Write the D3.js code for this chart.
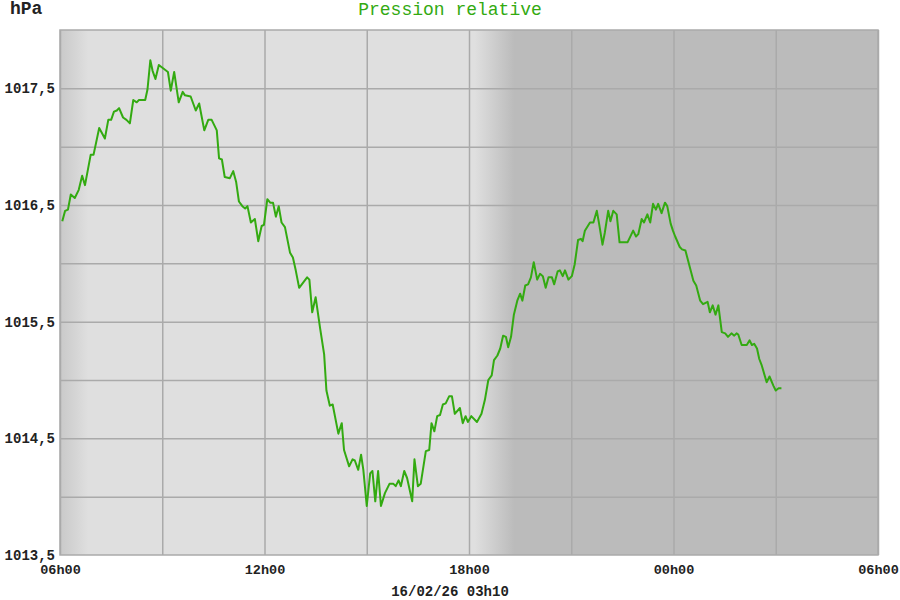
<!DOCTYPE html>
<html>
<head>
<meta charset="utf-8">
<script src="https://cdn.jsdelivr.net/npm/d3@7"></script>
<style>
  body { margin: 0; background: #fff; }
  svg text { font-family: "Liberation Mono", "Courier New", monospace; }
</style>
</head>
<body>
<svg id="chart" width="900" height="600"></svg>
<script>
// relative pressure readings, 15/02 06h00 -> 16/02 03h10
var times = [
  "06:04","06:09","06:14","06:19","06:26","06:33","06:39","06:44","06:54","06:59",
  "07:09","07:19","07:25","07:30","07:35","07:40","07:44","07:51","07:57","08:03",
  "08:09","08:15","08:19","08:30","08:34","08:39","08:43","08:48","08:54","09:02",
  "09:10","09:15","09:21","09:29","09:36","09:40","09:50","09:59","10:05","10:14",
  "10:21","10:27","10:36","10:40","10:45","10:50","10:59","11:05","11:10","11:15",
  "11:21","11:26","11:30","11:36","11:43","11:49","11:55","11:59","12:05","12:10",
  "12:15","12:20","12:25","12:30","12:36","12:45","12:50","12:55","13:01","13:15",
  "13:19","13:24","13:30","13:38","13:45","13:49","13:55","14:00","14:10","14:16",
  "14:20","14:29","14:35","14:39","14:45","14:50","14:54","15:00","15:06","15:10",
  "15:15","15:20","15:25","15:32","15:40","15:47","15:51","15:56","16:00","16:06",
  "16:11","16:20","16:24","16:30","16:35","16:44","16:50","16:54","16:59","17:04",
  "17:09","17:14","17:19","17:25","17:30","17:35","17:44","17:49","17:54","17:58",
  "18:04","18:14","18:22","18:28","18:34","18:40","18:44","18:50","18:55","19:00",
  "19:05","19:09","19:14","19:19","19:25","19:30","19:34","19:39","19:44","19:49",
  "19:54","20:00","20:05","20:10","20:15","20:20","20:26","20:30","20:36","20:40",
  "20:45","20:49","20:55","21:01","21:06","21:12","21:17","21:20","21:24","21:33",
  "21:39","21:45","21:49","21:55","21:59","22:05","22:09","22:14","22:20","22:25",
  "22:39","22:45","22:49","22:54","22:58","23:04","23:08","23:14","23:19","23:24",
  "23:29","23:33","23:39","23:45","23:49","23:55","23:59","00:03","00:11","00:15",
  "00:21","00:35","00:40","00:47","00:52","01:00","01:04","01:09","01:14","01:19",
  "01:25","01:31","01:36","01:42","01:47","01:51","01:54","02:00","02:09","02:14",
  "02:18","02:22","02:27","02:31","02:35","02:44","02:49","02:56","03:00","03:05",
  "03:10"
];
var pressures = [
  1016.36,1016.45,1016.46,1016.59,1016.56,1016.63,1016.75,1016.67,1016.93,1016.93,
  1017.16,1017.07,1017.23,1017.23,1017.30,1017.31,1017.33,1017.25,1017.23,1017.20,
  1017.40,1017.38,1017.40,1017.40,1017.49,1017.74,1017.65,1017.58,1017.70,1017.67,
  1017.64,1017.48,1017.64,1017.38,1017.47,1017.44,1017.43,1017.31,1017.37,1017.14,
  1017.23,1017.23,1017.14,1016.90,1016.89,1016.74,1016.73,1016.79,1016.70,1016.53,
  1016.49,1016.47,1016.49,1016.35,1016.38,1016.19,1016.32,1016.33,1016.55,1016.52,
  1016.52,1016.40,1016.49,1016.35,1016.31,1016.09,1016.05,1015.94,1015.79,1015.88,
  1015.86,1015.58,1015.71,1015.44,1015.22,1014.91,1014.78,1014.79,1014.54,1014.63,
  1014.40,1014.26,1014.32,1014.31,1014.23,1014.36,1014.23,1013.92,1014.20,1014.22,
  1013.96,1014.22,1013.92,1014.03,1014.11,1014.11,1014.09,1014.14,1014.09,1014.22,
  1014.16,1013.96,1014.32,1014.09,1014.11,1014.39,1014.40,1014.63,1014.56,1014.69,
  1014.70,1014.79,1014.80,1014.86,1014.86,1014.71,1014.76,1014.63,1014.69,1014.64,
  1014.69,1014.64,1014.71,1014.83,1015.00,1015.04,1015.17,1015.21,1015.27,1015.38,
  1015.37,1015.28,1015.37,1015.56,1015.68,1015.74,1015.68,1015.81,1015.82,1015.88,
  1016.01,1015.86,1015.91,1015.89,1015.79,1015.88,1015.88,1015.82,1015.93,1015.94,
  1015.89,1015.94,1015.86,1015.89,1015.99,1016.20,1016.21,1016.19,1016.28,1016.35,
  1016.35,1016.45,1016.34,1016.16,1016.26,1016.45,1016.36,1016.45,1016.42,1016.18,
  1016.18,1016.24,1016.28,1016.23,1016.25,1016.38,1016.35,1016.42,1016.35,1016.51,
  1016.46,1016.51,1016.43,1016.52,1016.49,1016.34,1016.28,1016.23,1016.14,1016.12,
  1016.11,1015.85,1015.81,1015.68,1015.65,1015.67,1015.58,1015.64,1015.56,1015.64,
  1015.41,1015.40,1015.37,1015.40,1015.38,1015.40,1015.39,1015.30,1015.30,1015.34,
  1015.30,1015.31,1015.27,1015.18,1015.13,1014.98,1015.03,1014.95,1014.91,1014.93,
  1014.93
];
var yLabelValues = [1013.5, 1014.5, 1015.5, 1016.5, 1017.5];
var yGridValues = [1014, 1014.5, 1015, 1015.5, 1016, 1016.5, 1017, 1017.5];
var yDomain = [1013.5, 1018];
var sunrise = "06:50", sunset = "18:10", nightFull = "19:20";
var stamp = "16/02/26 03h10";

function toDate(s) {
  var p = s.split(":"), h = +p[0], m = +p[1];
  return new Date(2026, 1, h < 6 ? 16 : 15, h, m);
}

var svg = d3.select("#chart"),
    margin = {top: 30, right: 22, bottom: 45, left: 60},
    width = 900 - margin.left - margin.right,
    height = 600 - margin.top - margin.bottom;

var start = new Date(2026, 1, 15, 6, 0),
    end = new Date(2026, 1, 16, 6, 0);

var x = d3.scaleTime().domain([start, end]).range([0, width]);
var y = d3.scaleLinear().domain(yDomain).range([height, 0]);

var fr = d3.formatLocale({decimal: ",", thousands: "", grouping: [3], currency: ["", "€"]});

var g = svg.append("g").attr("transform", "translate(" + margin.left + "," + margin.top + ")");

// day / night shading
var grad = svg.append("defs").append("linearGradient")
  .attr("id", "daynight")
  .attr("gradientUnits", "userSpaceOnUse")
  .attr("x1", 0).attr("x2", width).attr("y1", 0).attr("y2", 0);
[
  [start, "#c9c9c9"],
  [toDate(sunrise), "#dfdfdf"],
  [toDate(sunset), "#dfdfdf"],
  [toDate(nightFull), "#bbbbbb"],
  [end, "#bbbbbb"]
].forEach(function(s) {
  grad.append("stop").attr("offset", x(s[0]) / width).attr("stop-color", s[1]);
});

g.append("rect")
  .attr("width", width).attr("height", height)
  .attr("fill", "url(#daynight)");

// grid
g.append("g")
  .attr("class", "grid")
  .attr("transform", "translate(0," + height + ")")
  .call(d3.axisBottom(x).tickValues(d3.timeHour.range(start, d3.timeHour.offset(end, 1), 3))
    .tickSize(-height).tickFormat(""))
  .call(function(a) { a.select(".domain").remove(); });

g.append("g")
  .attr("class", "grid")
  .call(d3.axisLeft(y).tickValues(yGridValues).tickSize(-width).tickFormat(""))
  .call(function(a) { a.select(".domain").remove(); });

g.selectAll(".grid line").attr("stroke", "#aaaaaa").attr("stroke-width", 1.5);

// frame
g.append("rect")
  .attr("width", width).attr("height", height)
  .attr("fill", "none").attr("stroke", "#aaaaaa").attr("stroke-width", 1.5);

// axes labels
var xAxis = g.append("g")
  .attr("transform", "translate(0," + height + ")")
  .call(d3.axisBottom(x).tickValues(d3.timeHour.range(start, d3.timeHour.offset(end, 1), 6))
    .tickSize(0).tickPadding(9).tickFormat(d3.timeFormat("%Hh%M")));
xAxis.select(".domain").remove();
xAxis.selectAll("text")
  .attr("font-family", "Liberation Mono, monospace")
  .attr("font-size", "13.5px").attr("font-weight", "bold").attr("fill", "#222");

var yAxis = g.append("g")
  .call(d3.axisLeft(y).tickValues(yLabelValues).tickSize(0).tickPadding(5)
    .tickFormat(fr.format(".1f")));
yAxis.select(".domain").remove();
yAxis.selectAll("text")
  .attr("font-family", "Liberation Mono, monospace")
  .attr("font-size", "14px").attr("font-weight", "bold").attr("fill", "#222");

// series
var data = times.map(function(t, i) { return {t: toDate(t), v: pressures[i]}; });

g.append("path")
  .datum(data)
  .attr("fill", "none")
  .attr("stroke", "#33aa11")
  .attr("stroke-width", 2)
  .attr("stroke-linejoin", "round")
  .attr("d", d3.line().x(function(d) { return x(d.t); }).y(function(d) { return y(d.v); }));

// titles
svg.append("text")
  .attr("x", 10).attr("y", 14)
  .attr("font-size", "18px").attr("font-weight", "bold").attr("fill", "#222")
  .text("hPa");

svg.append("text")
  .attr("x", 450).attr("y", 15)
  .attr("text-anchor", "middle")
  .attr("font-size", "18px").attr("fill", "#33aa11")
  .text("Pression relative");

svg.append("text")
  .attr("x", 450).attr("y", 596)
  .attr("text-anchor", "middle")
  .attr("font-size", "14px").attr("font-weight", "bold").attr("fill", "#222")
  .text(stamp);
</script>
</body>
</html>
